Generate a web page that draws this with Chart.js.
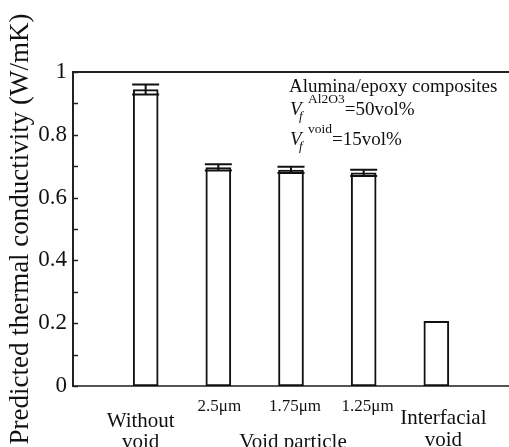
<!DOCTYPE html>
<html>
<head>
<meta charset="utf-8">
<script src="https://cdn.jsdelivr.net/npm/chart.js@4/dist/chart.umd.min.js"></script>
<style>
  html, body { margin: 0; padding: 0; background: #fff; }
  canvas { display: block; }
</style>
</head>
<body>
<canvas id="chart" width="509" height="447"></canvas>
<script>
// bar groups, left to right
const categories = ['Without void', '2.5μm', '1.75μm', '1.25μm', 'Interfacial void'];
const conductivity = [0.944, 0.696, 0.688, 0.679, 0.206];
const errors = [0.016, 0.01, 0.01, 0.01, 0];
const yTicks = [0, 0.2, 0.4, 0.6, 0.8, 1];

const SERIF = '"Liberation Serif", "Times New Roman", serif';

// empty slot on each side so the bars sit on 1..5 of a 0..6 axis
const labels = ['', ...categories, ''];
const data = [null, ...conductivity, null];
const errData = [null, ...errors, null];

const decorations = {
    id: 'decorations',
    afterDatasetsDraw(chart) {
        const { ctx, chartArea, scales: { x, y } } = chart;
        ctx.save();

        // error bars
        ctx.strokeStyle = '#111';
        ctx.lineWidth = 2;
        data.forEach((v, i) => {
            const e = errData[i];
            if (v == null || !e) return;
            const cx = x.getPixelForValue(i);
            const top = y.getPixelForValue(v + e);
            const bot = y.getPixelForValue(v - e);
            ctx.beginPath();
            ctx.moveTo(cx, top); ctx.lineTo(cx, bot);
            ctx.moveTo(cx - 13.5, top); ctx.lineTo(cx + 13.5, top);
            ctx.moveTo(cx - 13.5, bot); ctx.lineTo(cx + 13.5, bot);
            ctx.stroke();
        });

        // left axis line + inward ticks
        ctx.strokeStyle = '#222';
        ctx.lineWidth = 2;
        ctx.beginPath();
        ctx.moveTo(chartArea.left, chartArea.top);
        ctx.lineTo(chartArea.left, chartArea.bottom);
        ctx.stroke();
        ctx.lineWidth = 1.5;
        y.ticks.forEach(t => {
            const py = Math.round(y.getPixelForValue(t.value)) + 0.5;
            ctx.beginPath();
            ctx.moveTo(chartArea.left, py);
            ctx.lineTo(chartArea.left + 5, py);
            ctx.stroke();
        });

        // top frame line
        ctx.strokeStyle = '#222';
        ctx.lineWidth = 2;
        ctx.beginPath();
        ctx.moveTo(chartArea.left, chartArea.top);
        ctx.lineTo(chartArea.right, chartArea.top);
        ctx.stroke();

        // x category labels
        ctx.fillStyle = '#111';
        ctx.textAlign = 'center';
        ctx.textBaseline = 'alphabetic';
        ctx.font = '21px ' + SERIF;
        const c1 = x.getPixelForValue(1);
        ctx.fillText('Without', c1 - 5, 427);
        ctx.fillText('void', c1 - 5, 448);
        const c5 = x.getPixelForValue(5);
        ctx.fillText('Interfacial', c5 + 7, 424);
        ctx.fillText('void', c5 + 7, 446);
        ctx.fillText('Void particle', x.getPixelForValue(3) + 2, 448);
        ctx.font = '17px ' + SERIF;
        [2, 3, 4].forEach(i => {
            ctx.fillText(labels[i], x.getPixelForValue(i) + (i === 2 ? 1 : 4), 411);
        });

        // y axis title
        ctx.save();
        ctx.translate(28, (chartArea.top + chartArea.bottom) / 2);
        ctx.rotate(-Math.PI / 2);
        ctx.font = '27px ' + SERIF;
        ctx.fillText('Predicted thermal conductivity (W/mK)', 0, 0);
        ctx.restore();

        // annotation block
        ctx.textAlign = 'left';
        ctx.font = '19px ' + SERIF;
        ctx.fillText('Alumina/epoxy composites', 289, 92);
        const vf = (x0, base, sup, rest) => {
            ctx.font = 'italic 19px ' + SERIF;
            ctx.fillText('V', x0, base);
            ctx.font = 'italic 13px ' + SERIF;
            ctx.fillText('f', x0 + 9, base + 5);
            ctx.font = '13.5px ' + SERIF;
            ctx.fillText(sup, x0 + 18, base - 12);
            const w = ctx.measureText(sup).width;
            ctx.font = '19px ' + SERIF;
            ctx.fillText(rest, x0 + 18 + w, base);
        };
        vf(290, 115, 'Al2O3', '=50vol%');
        vf(290, 145, 'void', '=15vol%');

        ctx.restore();
    }
};

new Chart(document.getElementById('chart'), {
    type: 'bar',
    data: {
        labels: labels,
        datasets: [{
            data: data,
            backgroundColor: '#fff',
            borderColor: '#111',
            borderWidth: 2,
            borderSkipped: false,
            barThickness: 25
        }]
    },
    options: {
        responsive: false,
        animation: false,
        layout: { padding: { top: 72, left: 0, right: 0, bottom: 0 } },
        plugins: {
            legend: { display: false },
            tooltip: { enabled: false }
        },
        scales: {
            x: {
                type: 'category',
                offset: false,
                grid: { display: false },
                ticks: { display: false },
                border: { display: true, color: '#555', width: 2 },
                afterFit: s => { s.height = 61; }
            },
            y: {
                min: 0,
                max: 1,
                grid: { display: false, drawTicks: false },
                border: { display: true, color: '#222', width: 2 },
                ticks: {
                    stepSize: 0.1,
                    padding: 6,
                    color: '#111',
                    font: { family: SERIF, size: 23 },
                    callback: v => {
                        const r = Math.round(v * 10);
                        if (r % 2 !== 0) return '';
                        const lbl = yTicks.find(t => Math.abs(t - v) < 1e-6);
                        return lbl === undefined ? '' : String(lbl);
                    }
                },
                afterFit: s => { s.width = 73; }
            }
        }
    },
    plugins: [decorations]
});
</script>
</body>
</html>
